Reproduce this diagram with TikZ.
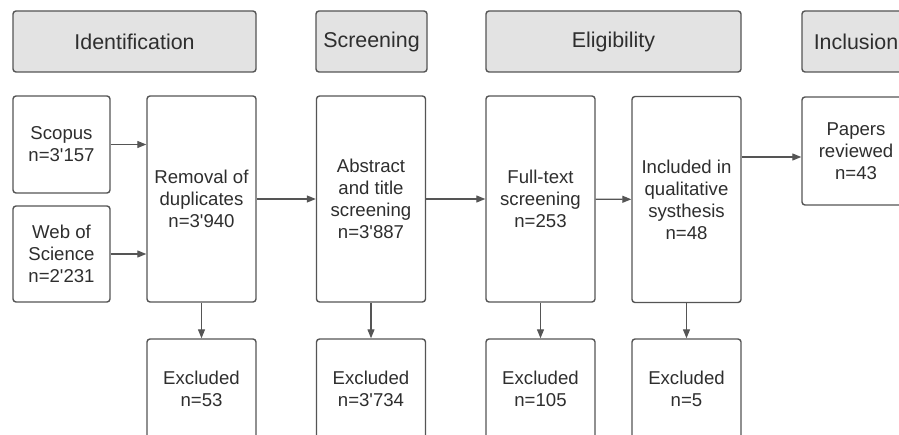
\documentclass[tikz,border=0pt]{standalone}
\usepackage{fontspec}
\setmainfont{Liberation Sans}[Ligatures=TeXOff]
\usepackage{tikz}
\usetikzlibrary{arrows.meta,positioning}

\definecolor{boxline}{HTML}{555555}
\definecolor{headfill}{HTML}{E3E3E3}
\definecolor{textgray}{HTML}{2E2E2E}

\begin{document}
\begin{tikzpicture}[
  x=1pt, y=-1pt,
  every node/.style={rectangle, draw=boxline, line width=1.4pt, rounded corners=3pt,
    text=textgray, align=center, inner sep=2pt, font=\fontsize{18.6}{22}\selectfont},
  phase/.style={fill=headfill, minimum height=61pt, font=\fontsize{21.4}{25}\selectfont},
  stage/.style={minimum width=109pt, minimum height=206pt},
  source/.style={minimum width=97pt, minimum height=97pt},
  excl/.style={minimum width=109pt, minimum height=100pt},
  link/.style={draw=boxline, line width=1.2pt, -{Triangle[length=9pt,width=7pt]}}
]
\clip (0,0) rectangle (899,435);
\fill[white] (0,0) rectangle (899,435);

\node[phase, minimum width=243pt] (ident) at (134.5,41.5) {Identification};
\node[phase, minimum width=111pt] (screen) at (371.5,41.5) {Screening};
\node[phase, minimum width=255pt] (elig) at (613.5,41.5) {Eligibility};
\node[phase, minimum width=108pt] (incl) at (856,41.5) {Inclusion};

\node[source] (scopus) at (61.5,144.5) {Scopus\\n=3'157};
\node[source, minimum height=96pt] (wos) at (61.5,254) {Web of\\Science\\n=2'231};
\node[stage] (removal) at (201.5,199) {Removal of\\duplicates\\n=3'940};
\node[stage] (abstract) at (371,199) {Abstract\\and title\\screening\\n=3'887};
\node[stage] (fulltext) at (540.5,199) {Full-text\\screening\\n=253};
\node[stage] (included) at (686.5,199.5) {Included in\\qualitative\\systhesis\\n=48};
\node[minimum width=108pt, minimum height=108pt] (papers) at (856,151) {Papers\\reviewed\\n=43};

\node[excl] (ex1) at (201.5,389) {Excluded\\n=53};
\node[excl] (ex2) at (371,389) {Excluded\\n=3'734};
\node[excl] (ex3) at (540.5,389) {Excluded\\n=105};
\node[excl] (ex4) at (686.5,389) {Excluded\\n=5};

\draw[link] (scopus.east) -- (scopus.east -| removal.west);
\draw[link] (wos.east) -- (wos.east -| removal.west);
\draw[link] (removal) -- (abstract);
\draw[link] (abstract) -- (fulltext);
\draw[link] (fulltext) -- (included);
\draw[link] ([yshift=-6pt]papers.west -| included.east) -- ([yshift=-6pt]papers.west);
\draw[link] (removal) -- (ex1);
\draw[link] (abstract) -- (ex2);
\draw[link] (fulltext) -- (ex3);
\draw[link] (included) -- (ex4);
\end{tikzpicture}
\end{document}
